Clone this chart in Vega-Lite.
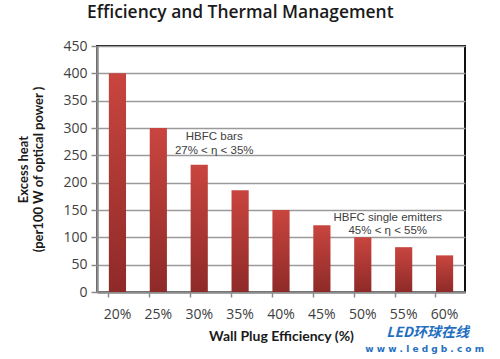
{
  "$schema": "https://vega.github.io/schema/vega-lite/v6.json",
  "width": 368,
  "height": 246,
  "autosize": "none",
  "padding": {"left": 97, "top": 46, "right": 35, "bottom": 67},
  "background": "white",
  "title": {
    "text": "Efficiency and Thermal Management",
    "anchor": "start",
    "frame": "group",
    "dx": -10,
    "offset": 18,
    "font": "Open Sans",
    "fontSize": 17.4,
    "fontWeight": 600,
    "color": "#1a1a1a"
  },
  "config": {
    "view": {"stroke": "#111111", "strokeWidth": 2},
    "axis": {"labelFont": "Open Sans", "labelFontSize": 14, "labelColor": "#404040", "titleFont": "Lato", "titleFontSize": 13, "titleFontWeight": "bold", "titleColor": "#1a1a1a"}
  },
  "datasets": {
    "bars": [
      {"efficiency": "20%", "heat": 400},
      {"efficiency": "25%", "heat": 300},
      {"efficiency": "30%", "heat": 233},
      {"efficiency": "35%", "heat": 186},
      {"efficiency": "40%", "heat": 150},
      {"efficiency": "45%", "heat": 122},
      {"efficiency": "50%", "heat": 100},
      {"efficiency": "55%", "heat": 82},
      {"efficiency": "60%", "heat": 67}
    ],
    "notes1": [
      {"efficiency": "30%", "heat": 283, "label": "HBFC bars"},
      {"efficiency": "30%", "heat": 258, "label": "27% < η < 35%"}
    ],
    "notes2": [
      {"efficiency": "50%", "heat": 135, "label": "HBFC single emitters"},
      {"efficiency": "50%", "heat": 111, "label": "45% < η < 55%"}
    ],
    "mark1": [
      {"efficiency": "55%", "heat": -75, "label": "LED环球在线"}
    ],
    "mark2": [
      {"efficiency": "55%", "heat": -105, "label": "w w w . l e d g b . c o m"}
    ]
  },
  "layer": [
    {
      "data": {"name": "bars"},
      "mark": {
        "type": "bar",
        "color": {"gradient": "linear", "x1": 0, "y1": 0, "x2": 0, "y2": 1,
          "stops": [{"offset": 0, "color": "#c9453f"}, {"offset": 1, "color": "#8e2a28"}]}
      },
      "encoding": {
        "x": {
          "field": "efficiency", "type": "ordinal",
          "scale": {"paddingInner": 0.58, "paddingOuter": 0.29},
          "axis": {
            "title": "Wall Plug Efficiency (%)",
            "titleFontSize": 14,
            "labelAngle": 0,
            "labelPadding": 10,
            "titlePadding": 8,
            "bandPosition": 0,
            "domainColor": "#8c8c8c",
            "domainWidth": 2.5,
            "tickColor": "#8c8c8c",
            "tickWidth": 1.5,
            "tickSize": 5,
            "grid": false
          }
        },
        "y": {
          "field": "heat", "type": "quantitative",
          "scale": {"domain": [0, 450], "nice": false},
          "axis": {
            "title": ["Excess heat", "(per100 W of optical power )"],
            "values": [0, 50, 100, 150, 200, 250, 300, 350, 400, 450],
            "tickCount": 10,
            "labelOverlap": false,
            "labelFlush": false,
            "domainColor": "#8c8c8c",
            "domainWidth": 2.5,
            "tickColor": "#8c8c8c",
            "tickWidth": 1.5,
            "tickSize": 6,
            "labelPadding": 4,
            "titlePadding": 17,
            "gridColor": "#9a9a9a",
            "gridWidth": 1.5
          }
        }
      }
    },
    {
      "data": {"name": "notes1"},
      "mark": {"type": "text", "dx": 15, "font": "Liberation Sans", "fontSize": 11.5, "color": "#404040"},
      "encoding": {
        "x": {"field": "efficiency", "type": "ordinal"},
        "y": {"field": "heat", "type": "quantitative"},
        "text": {"field": "label"}
      }
    },
    {
      "data": {"name": "notes2"},
      "mark": {"type": "text", "dx": 25, "font": "Liberation Sans", "fontSize": 11.5, "color": "#404040"},
      "encoding": {
        "x": {"field": "efficiency", "type": "ordinal"},
        "y": {"field": "heat", "type": "quantitative"},
        "text": {"field": "label"}
      }
    },
    {
      "data": {"name": "mark1"},
      "mark": {"type": "text", "dx": 24, "font": "Noto Sans CJK SC", "fontSize": 14, "fontWeight": "bold", "fontStyle": "italic", "color": "#1f6fc0"},
      "encoding": {
        "x": {"field": "efficiency", "type": "ordinal"},
        "y": {"field": "heat", "type": "quantitative"},
        "text": {"field": "label"}
      }
    },
    {
      "data": {"name": "mark2"},
      "mark": {"type": "text", "dx": 21, "font": "DejaVu Sans", "fontSize": 9, "fontWeight": "bold", "color": "#1f6fc0"},
      "encoding": {
        "x": {"field": "efficiency", "type": "ordinal"},
        "y": {"field": "heat", "type": "quantitative"},
        "text": {"field": "label"}
      }
    }
  ]
}
